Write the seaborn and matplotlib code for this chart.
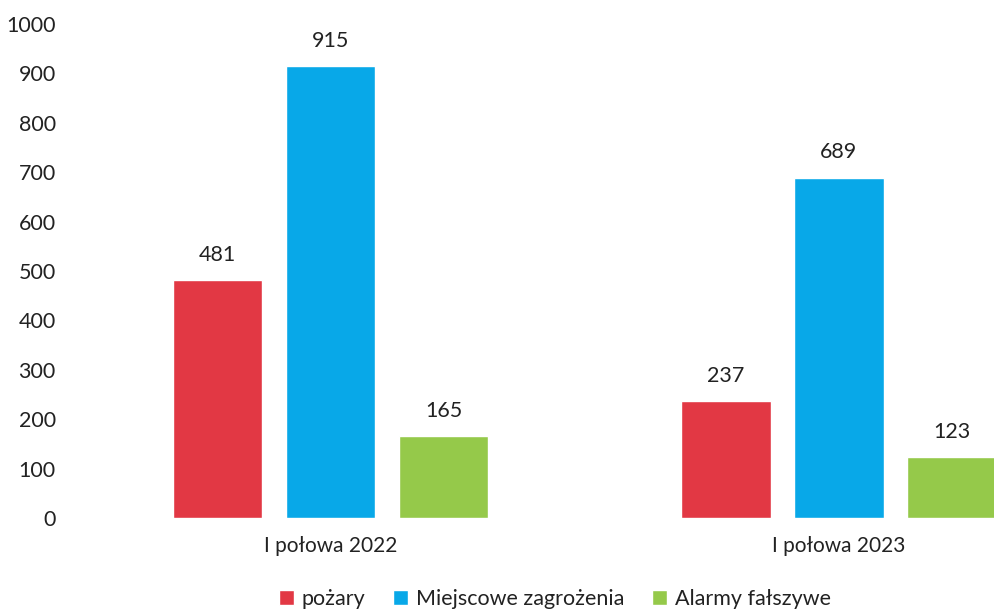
import matplotlib
matplotlib.use("Agg")
import matplotlib.pyplot as plt
import seaborn as sns
import pandas as pd

categories = ["I połowa 2022", "I połowa 2023"]
series = ["pożary", "Miejscowe zagrożenia", "Alarmy fałszywe"]
pozary = [481, 237]
miejscowe = [915, 689]
alarmy = [165, 123]
colors = ["#E23844", "#08A8E8", "#95C94A"]

rows = []
for s, vals in zip(series, [pozary, miejscowe, alarmy]):
    for c, v in zip(categories, vals):
        rows.append({"kategoria": c, "seria": s, "wartosc": v})
df = pd.DataFrame(rows)

sns.set_theme(style="white")
plt.rcParams['font.family'] = ['Lato', 'DejaVu Sans']

FS = 15.5
fig = plt.figure(figsize=(9.95, 6.11), dpi=100)
ax = fig.add_axes([60/995, 93/611, 935/995, 494/611])
sns.barplot(data=df, x="kategoria", y="wartosc", hue="seria", hue_order=series,
            palette=colors, width=0.667, gap=0.21, ax=ax, saturation=1, legend=True)

ax.set_xlim(-0.533, 1.307)
ax.set_ylim(0, 1000)
ax.set_yticks(range(0, 1001, 100))
ax.set_xlabel("")
ax.set_ylabel("")
for sp in ax.spines.values():
    sp.set_visible(False)
ax.tick_params(axis="y", labelsize=FS, colors="#222222", pad=3, length=0)
ax.tick_params(axis="x", labelsize=FS - 0.5, colors="#222222", pad=13, length=0)

for cont in ax.containers:
    ax.bar_label(cont, fmt="%d", padding=11, fontsize=FS, color="#222222")

leg = ax.legend(loc="center", bbox_to_anchor=(555/995, 1 - 599/611),
                bbox_transform=fig.transFigure, ncol=3, frameon=False,
                fontsize=FS, handlelength=0.7, handleheight=0.7,
                handletextpad=0.35, columnspacing=1.3, borderpad=0.2)
for t in leg.get_texts():
    t.set_color("#222222")

fig.savefig("out.png", dpi=100)
